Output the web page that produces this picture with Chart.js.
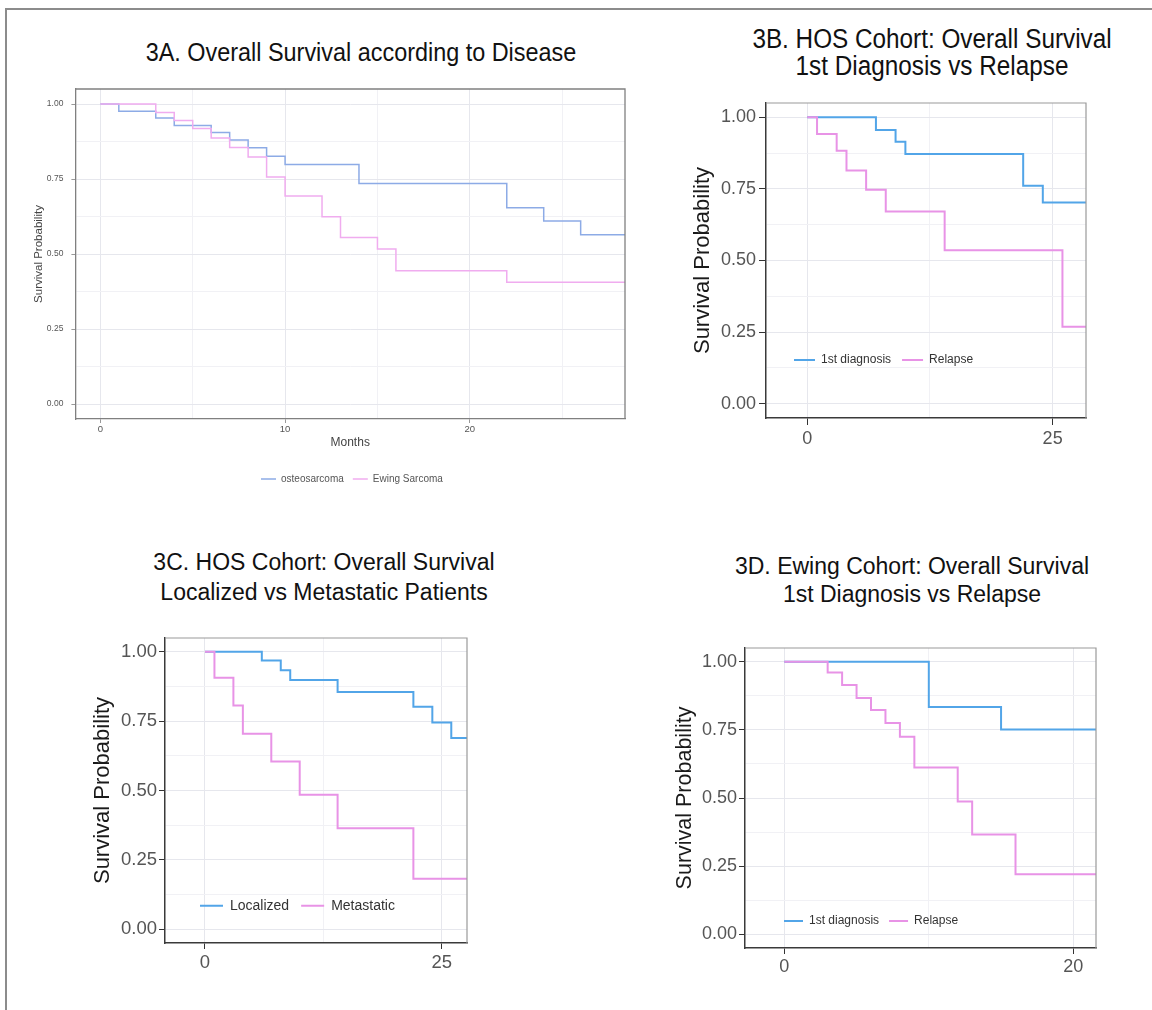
<!DOCTYPE html>
<html>
<head>
<meta charset="utf-8">
<script src="https://cdn.jsdelivr.net/npm/chart.js@4.4.0/dist/chart.umd.min.js"></script>
<style>
  body { margin: 0; background: #fff; width: 1152px; height: 1010px; position: relative; overflow: hidden; font-family: 'Liberation Sans', Arial, sans-serif; }
  .frame { position: absolute; left: 5px; top: 8px; width: 1160px; height: 1020px; border-top: 2px solid #8c8c8c; border-left: 2px solid #8c8c8c; }
  .title { position: absolute; text-align: center; color: #111; white-space: nowrap; }
  .narrow { transform: scaleX(0.9); }
  canvas { position: absolute; }
</style>
</head>
<body>
<div class="frame"></div>

<div class="title narrow" style="left:61px; width:600px; top:37px; font-size:26px; line-height:30px;">3A. Overall Survival according to Disease</div>
<div class="title narrow" style="left:632px; width:600px; top:26px; font-size:27px; line-height:27px;">3B. HOS Cohort: Overall Survival<br>1st Diagnosis vs Relapse</div>
<div class="title" style="left:24px; width:600px; top:547px; font-size:23px; line-height:30px;">3C. HOS Cohort: Overall Survival<br>Localized vs Metastatic Patients</div>
<div class="title" style="left:612px; width:600px; top:552px; font-size:23px; line-height:28px;">3D. Ewing Cohort: Overall Survival<br>1st Diagnosis vs Relapse</div>

<canvas id="chartA" width="620" height="427" style="left:20px; top:73px;"></canvas>
<canvas id="chartB" width="420" height="373" style="left:680px; top:87px;"></canvas>
<canvas id="chartC" width="400" height="368" style="left:80px; top:622px;"></canvas>
<canvas id="chartD" width="445" height="363" style="left:665px; top:632px;"></canvas>

<script>
// 3A - overall survival by disease
const aOsteoMonths = [0, 1, 3, 4, 6, 7, 8, 9, 10, 14, 22, 24, 26, 30];
const aOsteoSurv   = [1, 0.976, 0.953, 0.928, 0.905, 0.880, 0.854, 0.826, 0.798, 0.735, 0.654, 0.610, 0.564, 0.564];
const aEwingMonths = [0, 3, 4, 5, 6, 7, 8, 9, 10, 12, 13, 15, 16, 22, 30];
const aEwingSurv   = [1, 0.972, 0.945, 0.918, 0.887, 0.855, 0.823, 0.757, 0.693, 0.624, 0.555, 0.517, 0.444, 0.406, 0.406];

// 3B - HOS cohort, 1st diagnosis vs relapse
const bFirstMonths   = [0, 7, 9, 10, 22, 24, 30];
const bFirstSurv     = [1, 0.956, 0.915, 0.872, 0.761, 0.703, 0.703];
const bRelapseMonths = [0, 1, 3, 4, 6, 8, 14, 26, 30];
const bRelapseSurv   = [1, 0.942, 0.883, 0.814, 0.747, 0.671, 0.536, 0.269, 0.269];

// 3C - HOS cohort, localized vs metastatic
const cLocalMonths = [0, 6, 8, 9, 14, 22, 24, 26, 30];
const cLocalSurv   = [1, 0.969, 0.934, 0.899, 0.855, 0.802, 0.745, 0.689, 0.689];
const cMetaMonths  = [0, 1, 3, 4, 7, 10, 14, 22, 30];
const cMetaSurv    = [1, 0.907, 0.807, 0.705, 0.605, 0.485, 0.364, 0.182, 0.182];

// 3D - Ewing cohort, 1st diagnosis vs relapse
const dFirstMonths   = [0, 10, 15, 24];
const dFirstSurv     = [1, 0.834, 0.751, 0.751];
const dRelapseMonths = [0, 3, 4, 5, 6, 7, 8, 9, 12, 13, 16, 24];
const dRelapseSurv   = [1, 0.960, 0.914, 0.867, 0.823, 0.775, 0.725, 0.612, 0.487, 0.366, 0.220, 0.220];

// ticks / grid
const yGridValues  = [0, 0.125, 0.25, 0.375, 0.5, 0.625, 0.75, 0.875, 1];
const yLabelValues = [0, 0.25, 0.5, 0.75, 1];
const aXGrid   = [0, 5, 10, 15, 20, 25];
const aXLabels = [0, 10, 20];
const bXGrid   = [0, 12.5, 25];
const bXLabels = [0, 25];
const cXGrid   = [0, 12.5, 25];
const cXLabels = [0, 25];
const dXGrid   = [0, 10, 20];
const dXLabels = [0, 20];

const FONT = "'Liberation Sans', Arial, sans-serif";
const BLUE = '#52a5e8', PINK = '#e893e6';
const BLUE_A = '#8dabe6', PINK_A = '#f0acef';

function toPoints(xs, ys) {
    return xs.map((x, i) => ({ x: x, y: ys[i] }));
}

// move the legend into the place it has in the figure
const legendPlacer = {
    id: 'legendPlacer',
    afterLayout(chart, args, opts) {
        const lg = chart.legend;
        if (!lg) return;
        const lab = lg.options.labels;
        const size = lab.font.size;
        lg.left = opts.x;
        lg.right = opts.x + 1000;
        lg.top = opts.cy - lab.padding - size / 2;
        lg.bottom = lg.top + size + lab.padding * 2 + 6;
    }
};

// top and right edge of the panel border
const panelEdge = {
    id: 'panelEdge',
    afterDatasetsDraw(chart, args, opts) {
        const { ctx, chartArea: a } = chart;
        ctx.save();
        ctx.strokeStyle = opts.color;
        ctx.lineWidth = opts.width;
        ctx.beginPath();
        ctx.moveTo(a.left, a.top);
        ctx.lineTo(a.right, a.top);
        ctx.lineTo(a.right, a.bottom);
        ctx.stroke();
        ctx.restore();
    }
};

function kmChart(id, p) {
    const gridColor = (labels) => (c) => labels.includes(c.tick.value) ? '#e6e7ed' : '#f1f1f5';
    const markColor = (labels) => (c) => labels.includes(c.tick.value) ? p.markColor : 'rgba(0,0,0,0)';
    return new Chart(document.getElementById(id), {
        type: 'line',
        data: {
            datasets: p.series.map(s => ({
                label: s.label,
                data: toPoints(s.months, s.surv),
                borderColor: s.color,
                backgroundColor: s.color,
                borderWidth: p.lineWidth,
                stepped: 'before',
                pointRadius: 0,
                fill: false,
                order: s.order
            }))
        },
        options: {
            responsive: false,
            animation: false,
            devicePixelRatio: 1,
            events: [],
            layout: { padding: { top: p.padTop, right: p.padRight, left: 0, bottom: 0 } },
            plugins: {
                tooltip: { enabled: false },
                legend: {
                    position: 'top',
                    align: 'start',
                    maxHeight: 0.01,
                    labels: {
                        usePointStyle: true,
                        pointStyle: 'line',
                        pointStyleWidth: p.legendSwatch,
                        padding: p.legendPad,
                        color: p.legendColor,
                        font: { family: FONT, size: p.legendSize },
                        sort: (a, b) => a.datasetIndex - b.datasetIndex
                    }
                },
                legendPlacer: { x: p.legendX, cy: p.legendY },
                panelEdge: { color: p.edgeColor, width: p.edgeWidth }
            },
            scales: {
                x: {
                    type: 'linear',
                    min: p.xMin,
                    max: p.xMax,
                    afterFit: s => { s.height = p.xAxisHeight; },
                    afterBuildTicks: s => { s.ticks = p.xGrid.map(v => ({ value: v })); },
                    ticks: {
                        autoSkip: false,
                        maxRotation: 0,
                        padding: p.xTickPad,
                        color: p.tickColor,
                        font: { family: FONT, size: p.tickSize },
                        callback: v => p.xLabels.includes(v) ? String(v) : ''
                    },
                    grid: {
                        color: gridColor(p.xLabels),
                        lineWidth: 1,
                        tickLength: p.tickLen,
                        tickColor: markColor(p.xLabels)
                    },
                    border: { display: true, color: p.axisColor, width: p.axisWidth },
                    title: p.xTitle ? {
                        display: true,
                        text: p.xTitle,
                        color: p.titleColor,
                        font: { family: FONT, size: p.xTitleSize },
                        padding: { top: 0, bottom: p.xTitlePad }
                    } : { display: false }
                },
                y: {
                    type: 'linear',
                    min: -0.05,
                    max: 1.05,
                    afterFit: s => { s.width = p.yAxisWidth; },
                    afterBuildTicks: s => { s.ticks = yGridValues.map(v => ({ value: v })); },
                    ticks: {
                        autoSkip: false,
                        padding: p.yTickPad,
                        color: p.tickColor,
                        font: { family: FONT, size: p.yTickSize || p.tickSize },
                        callback: v => yLabelValues.includes(v) ? v.toFixed(2) : ''
                    },
                    grid: {
                        color: gridColor(yLabelValues),
                        lineWidth: 1,
                        tickLength: p.tickLen,
                        tickColor: markColor(yLabelValues)
                    },
                    border: { display: true, color: p.axisColor, width: p.axisWidth },
                    title: {
                        display: true,
                        text: 'Survival Probability',
                        color: p.titleColor,
                        font: { family: FONT, size: p.yTitleSize },
                        padding: { top: p.yTitlePad, bottom: 0 }
                    }
                }
            }
        },
        plugins: [legendPlacer, panelEdge]
    });
}

kmChart('chartA', {
    series: [
        { label: 'osteosarcoma', months: aOsteoMonths, surv: aOsteoSurv, color: BLUE_A, order: 1 },
        { label: 'Ewing Sarcoma', months: aEwingMonths, surv: aEwingSurv, color: PINK_A, order: 0 }
    ],
    lineWidth: 1.5,
    xMin: -1.35, xMax: 28.4, xGrid: aXGrid, xLabels: aXLabels,
    padTop: 16, padRight: 15, yAxisWidth: 55.4, xAxisHeight: 81,
    tickSize: 9.5, yTickSize: 8.5, tickColor: '#555', tickLen: 4, xTickPad: 1, yTickPad: 8, markColor: '#999',
    axisColor: '#808080', axisWidth: 1.3, edgeColor: '#808080', edgeWidth: 1.3,
    titleColor: '#444', yTitleSize: 11.5, yTitlePad: 12,
    xTitle: 'Months', xTitleSize: 12, xTitlePad: 49.8,
    legendX: 232, legendY: 406, legendSwatch: 15, legendPad: 9, legendSize: 10, legendColor: '#555'
});

kmChart('chartB', {
    series: [
        { label: '1st diagnosis', months: bFirstMonths, surv: bFirstSurv, color: BLUE, order: 1 },
        { label: 'Relapse', months: bRelapseMonths, surv: bRelapseSurv, color: PINK, order: 0 }
    ],
    lineWidth: 2,
    xMin: -4.2, xMax: 28.4, xGrid: bXGrid, xLabels: bXLabels,
    padTop: 16, padRight: 14, yAxisWidth: 86, xAxisHeight: 42,
    tickSize: 18, tickColor: '#555', tickLen: 7, xTickPad: 3, yTickPad: 3, markColor: '#333',
    axisColor: '#3a3a3a', axisWidth: 1.5, edgeColor: '#9a9a9a', edgeWidth: 1.2,
    titleColor: '#1a1a1a', yTitleSize: 22, yTitlePad: 9.8,
    xTitle: null,
    legendX: 103, legendY: 273, legendSwatch: 21, legendPad: 11, legendSize: 12, legendColor: '#333'
});

kmChart('chartC', {
    series: [
        { label: 'Localized', months: cLocalMonths, surv: cLocalSurv, color: BLUE, order: 1 },
        { label: 'Metastatic', months: cMetaMonths, surv: cMetaSurv, color: PINK, order: 0 }
    ],
    lineWidth: 2,
    xMin: -4.22, xMax: 27.66, xGrid: cXGrid, xLabels: cXLabels,
    padTop: 16, padRight: 13, yAxisWidth: 85, xAxisHeight: 47,
    tickSize: 18.5, tickColor: '#555', tickLen: 6, xTickPad: 3, yTickPad: 2, markColor: '#333',
    axisColor: '#3a3a3a', axisWidth: 1.5, edgeColor: '#9a9a9a', edgeWidth: 1.2,
    titleColor: '#1a1a1a', yTitleSize: 22, yTitlePad: 9.8,
    xTitle: null,
    legendX: 108, legendY: 283.7, legendSwatch: 23, legendPad: 12, legendSize: 14, legendColor: '#333'
});

kmChart('chartD', {
    series: [
        { label: '1st diagnosis', months: dFirstMonths, surv: dFirstSurv, color: BLUE, order: 1 },
        { label: 'Relapse', months: dRelapseMonths, surv: dRelapseSurv, color: PINK, order: 0 }
    ],
    lineWidth: 2,
    xMin: -2.72, xMax: 21.57, xGrid: dXGrid, xLabels: dXLabels,
    padTop: 16, padRight: 14, yAxisWidth: 80, xAxisHeight: 47,
    tickSize: 18, tickColor: '#555', tickLen: 6, xTickPad: 2, yTickPad: 2, markColor: '#333',
    axisColor: '#3a3a3a', axisWidth: 1.5, edgeColor: '#9a9a9a', edgeWidth: 1.2,
    titleColor: '#1a1a1a', yTitleSize: 21.5, yTitlePad: 7.1,
    xTitle: null,
    legendX: 109, legendY: 289, legendSwatch: 19, legendPad: 10, legendSize: 12, legendColor: '#333'
});
</script>
</body>
</html>
